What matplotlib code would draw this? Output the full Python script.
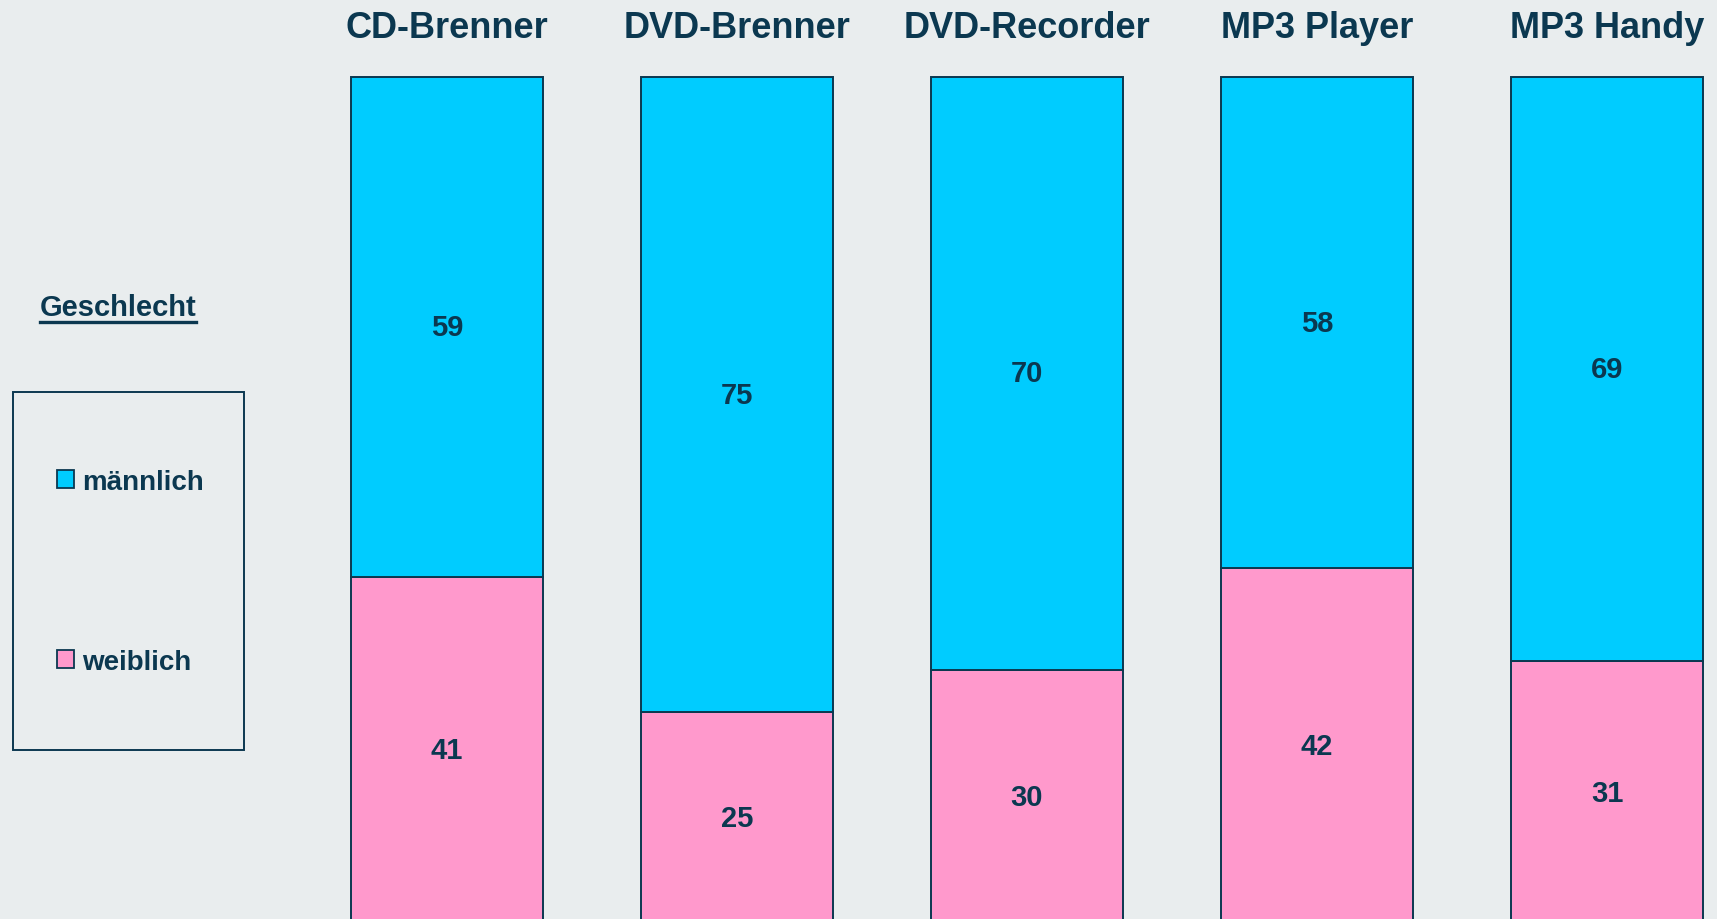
import matplotlib.pyplot as plt
import matplotlib.patches as mpatches
from matplotlib.lines import Line2D
import numpy as np

plt.rcParams['font.family'] = ['Liberation Sans', 'DejaVu Sans']

# data
geraete = ["CD-Brenner", "DVD-Brenner", "DVD-Recorder", "MP3 Player", "MP3 Handy"]
maennlich = [59, 75, 70, 58, 69]
weiblich = [41, 25, 30, 42, 31]
legend_title = "Geschlecht"
series_names = ["männlich", "weiblich"]

bg = "#E9EDEE"
ink = "#0B3850"
c_m = "#00CCFF"
c_w = "#FF99CC"

W, H = 1717, 920
fig = plt.figure(figsize=(W / 100, H / 100), dpi=100, facecolor=bg)

# axes: bar tops at y=78px, bar bottoms at y=925px (just below the edge)
ax = fig.add_axes([0, -5 / H, 1, 847 / H])
ax.patch.set_alpha(0)
x = np.arange(len(geraete))
ax.set_xlim(-447 / 290, (W - 447) / 290)
ax.set_ylim(0, 100)
ax.axis("off")

bw = 192 / 290
ax.bar(x, weiblich, bw, color=c_w, edgecolor=ink, linewidth=1.4, clip_on=False)
ax.bar(x, maennlich, bw, bottom=weiblich, color=c_m, edgecolor=ink,
       linewidth=1.4, clip_on=False)

for i in range(len(geraete)):
    ax.text(x[i], weiblich[i] / 2, str(weiblich[i]), ha="center", va="center",
            fontsize=21, fontweight="bold", color=ink)
    ax.text(x[i], weiblich[i] + maennlich[i] / 2, str(maennlich[i]), ha="center",
            va="center", fontsize=21, fontweight="bold", color=ink)
    ax.text(x[i], 100 + 49 / 8.47, geraete[i], ha="center", va="center",
            fontsize=26, fontweight="bold", color=ink, clip_on=False)

# legend title, underlined
t = fig.text(118 / W, 1 - 308 / H, legend_title, ha="center", va="center",
             fontsize=21, fontweight="bold", color=ink)
fig.canvas.draw()
bb = t.get_window_extent().transformed(fig.transFigure.inverted())
fig.add_artist(Line2D([bb.x0, bb.x1], [1 - 323 / H] * 2, color=ink, lw=2.4,
                      transform=fig.transFigure))

# legend frame
fig.add_artist(mpatches.Rectangle((13 / W, 1 - 751 / H), 231 / W, 358 / H,
                                  transform=fig.transFigure, fill=False,
                                  edgecolor=ink, lw=1.4))

handles = [mpatches.Patch(facecolor=c_m, edgecolor=ink, lw=1.3),
           mpatches.Patch(facecolor=c_w, edgecolor=ink, lw=1.3)]
fig.legend(handles, series_names, loc="center left",
           bbox_to_anchor=(57 / W, 1 - 573 / H), frameon=False,
           prop={"size": 20, "weight": "bold"}, labelcolor=ink,
           borderpad=0, borderaxespad=0,
           handlelength=0.6, handleheight=0.6, handletextpad=0.3,
           labelspacing=5.55)

fig.savefig("out.png", dpi=100, facecolor=bg)
